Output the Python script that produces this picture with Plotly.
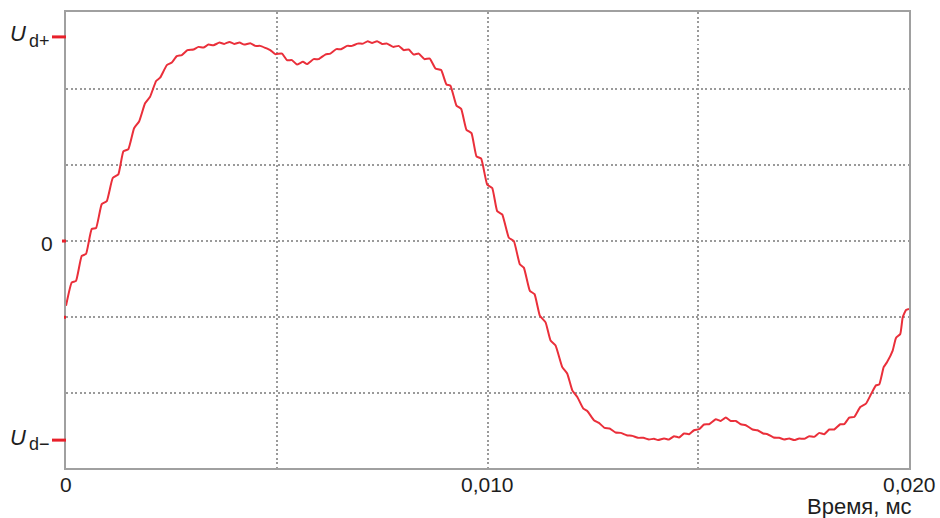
import plotly.graph_objects as go

# Time axis values (same units as the axis labels)
T = [0.000000, 0.000135, 0.000238, 0.000373, 0.000475, 0.000610, 0.000713, 0.000848, 0.000967, 0.001109,
     0.001242, 0.001361, 0.001480, 0.001615, 0.001734, 0.001876, 0.001995, 0.002138, 0.002233, 0.002392,
     0.002511, 0.002629, 0.002748, 0.002881, 0.003024, 0.003143, 0.003261, 0.003380, 0.003499, 0.003641,
     0.003753, 0.003879, 0.003990, 0.004116, 0.004228, 0.004371, 0.004489, 0.004608, 0.004727, 0.004846,
     0.004964, 0.005124, 0.005242, 0.005361, 0.005480, 0.005622, 0.005717, 0.005874, 0.005993, 0.006152,
     0.006271, 0.006413, 0.006525, 0.006667, 0.006786, 0.006919, 0.007048, 0.007157, 0.007261, 0.007380,
     0.007499, 0.007618, 0.007760, 0.007893, 0.008012, 0.008131, 0.008250, 0.008368, 0.008504, 0.008630,
     0.008765, 0.008900, 0.009026, 0.009121, 0.009264, 0.009375, 0.009501, 0.009620, 0.009739, 0.009850,
     0.009993, 0.010112, 0.010230, 0.010349, 0.010506, 0.010625, 0.010767, 0.010862, 0.011005, 0.011116,
     0.011242, 0.011378, 0.011496, 0.011615, 0.011774, 0.011893, 0.012012, 0.012131, 0.012273, 0.012368,
     0.012525, 0.012644, 0.012779, 0.012898, 0.013040, 0.013159, 0.013302, 0.013437, 0.013570, 0.013698,
     0.013831, 0.013950, 0.014045, 0.014188, 0.014306, 0.014425, 0.014544, 0.014663, 0.014782, 0.014900,
     0.015019, 0.015138, 0.015257, 0.015416, 0.015535, 0.015653, 0.015772, 0.015891, 0.016010, 0.016128,
     0.016288, 0.016406, 0.016540, 0.016644, 0.016787, 0.016920, 0.017038, 0.017157, 0.017276, 0.017395,
     0.017513, 0.017632, 0.017751, 0.017870, 0.017989, 0.018107, 0.018226, 0.018369, 0.018464, 0.018582,
     0.018701, 0.018844, 0.018979, 0.019097, 0.019216, 0.019295, 0.019399, 0.019477, 0.019613, 0.019691,
     0.019793, 0.019850, 0.019929, 0.020000]

# Voltage (one unit = one horizontal grid step)
V = [-0.850, -0.545, -0.523, -0.196, -0.170, 0.157, 0.170, 0.484, 0.523, 0.827,
     0.876, 1.176, 1.207, 1.481, 1.569, 1.808, 1.895, 2.101, 2.144, 2.310,
     2.344, 2.427, 2.441, 2.506, 2.514, 2.549, 2.540, 2.579, 2.571, 2.605,
     2.588, 2.614, 2.588, 2.605, 2.579, 2.597, 2.562, 2.562, 2.536, 2.506,
     2.454, 2.461, 2.375, 2.375, 2.318, 2.353, 2.323, 2.388, 2.388, 2.448,
     2.461, 2.519, 2.519, 2.562, 2.562, 2.592, 2.592, 2.624, 2.601, 2.624,
     2.588, 2.592, 2.549, 2.562, 2.506, 2.514, 2.448, 2.461, 2.388, 2.396,
     2.265, 2.244, 2.056, 2.039, 1.778, 1.735, 1.460, 1.416, 1.111, 1.081,
     0.741, 0.697, 0.392, 0.349, 0.043, 0.000, -0.305, -0.349, -0.654, -0.697,
     -0.980, -1.068, -1.307, -1.373, -1.656, -1.742, -1.961, -2.048, -2.200, -2.231,
     -2.353, -2.388, -2.454, -2.461, -2.514, -2.519, -2.549, -2.558, -2.584, -2.584,
     -2.605, -2.597, -2.614, -2.592, -2.605, -2.562, -2.579, -2.527, -2.536, -2.484,
     -2.471, -2.409, -2.405, -2.340, -2.362, -2.318, -2.362, -2.362, -2.405, -2.418,
     -2.475, -2.484, -2.527, -2.536, -2.579, -2.584, -2.605, -2.592, -2.614, -2.592,
     -2.597, -2.562, -2.571, -2.519, -2.536, -2.475, -2.475, -2.405, -2.405, -2.318,
     -2.310, -2.179, -2.135, -2.013, -1.895, -1.882, -1.656, -1.591, -1.438, -1.272,
     -1.220, -1.003, -0.906, -0.893]

X_GRID = [0, 0.005, 0.010, 0.015, 0.020]
X_LABEL_VALS = [0, 0.010, 0.020]
X_LABEL_TEXT = ["0", "0,010", "0,020"]
Y_GRID = [-2, -1, 0, 1, 2]
U_LEVELS = [2.68, -2.614]
U_SUBSCRIPTS = ["d+", "d\u2212"]
ZERO_LEVEL = 0.0
ZERO_TEXT = "0"
RED_TICK_VALS = [2.68, 0.0, -1.0, -2.614]
RED_TICK_LEN = [14, 4, 2, 14]
X_TITLE = "Время, мс"

FONT = "Liberation Sans, Arial, sans-serif"
RED = "#e8202a"
TXT = "#1e1e1e"

L, R, TOP, B = 66, 31, 10, 50
PLOT_W = 940 - L - R

fig = go.Figure()
fig.add_trace(go.Scatter(x=T, y=V, mode="lines",
                         line=dict(color="#ea2f3a", width=2, shape="spline", smoothing=0.4),
                         hoverinfo="skip", showlegend=False))

for val, ln in zip(RED_TICK_VALS, RED_TICK_LEN):
    fig.add_shape(type="line", xref="paper", yref="y", x0=-ln / PLOT_W, x1=0.0, y0=val, y1=val,
                  line=dict(color=RED, width=3), layer="above")

# U labels: italic U plus subscript, placed left of the axis
split_x = -(L - 27) / PLOT_W
for val, sub in zip(U_LEVELS, U_SUBSCRIPTS):
    fig.add_annotation(x=split_x, xref="paper", y=val, yref="y", text="<i>U</i>", showarrow=False,
                       xanchor="right", yanchor="middle", yshift=3, xshift=1,
                       font=dict(family=FONT, size=22, color=TXT))
    fig.add_annotation(x=split_x, xref="paper", y=val, yref="y", text=sub, showarrow=False,
                       xanchor="left", yanchor="middle", yshift=-4,
                       font=dict(family=FONT, size=18, color=TXT))

fig.add_annotation(x=0, xref="paper", y=ZERO_LEVEL, yref="y", text=ZERO_TEXT, showarrow=False,
                   xanchor="right", yanchor="middle", xshift=-11, yshift=-2,
                   font=dict(family=FONT, size=21, color=TXT))

# x tick labels
for xv, txt in zip(X_LABEL_VALS, X_LABEL_TEXT):
    fig.add_annotation(x=xv, xref="x", y=0, yref="paper", text=txt, showarrow=False,
                       xanchor="center", yanchor="top", yshift=-3,
                       font=dict(family=FONT, size=21, color=TXT))

fig.add_annotation(x=1, xref="paper", y=0, yref="paper", text=X_TITLE, showarrow=False,
                   xanchor="right", yanchor="top", xshift=5, yshift=-24,
                   font=dict(family=FONT, size=22, color=TXT))

fig.update_layout(
    width=940, height=518,
    margin=dict(l=L, r=R, t=TOP, b=B),
    paper_bgcolor="white", plot_bgcolor="white",
    font=dict(family=FONT, size=21, color=TXT),
    xaxis=dict(range=[0, 0.020], tickvals=X_GRID, showticklabels=False,
               showgrid=True, gridcolor="#9a9a9a", griddash="2px,2.5px", gridwidth=1.5,
               showline=True, mirror=True, linecolor="#a0a0a0", linewidth=1.5,
               zeroline=False, ticks=""),
    yaxis=dict(range=[-2.98, 3.007], tickvals=Y_GRID, showticklabels=False,
               showgrid=True, gridcolor="#9a9a9a", griddash="2px,2.5px", gridwidth=1.5,
               showline=True, mirror=True, linecolor="#a0a0a0", linewidth=1.5,
               zeroline=False, ticks=""),
)

fig.write_html("out.html", config={"displayModeBar": False},
               post_script="document.body.style.margin='0';document.body.style.overflow='hidden';")
